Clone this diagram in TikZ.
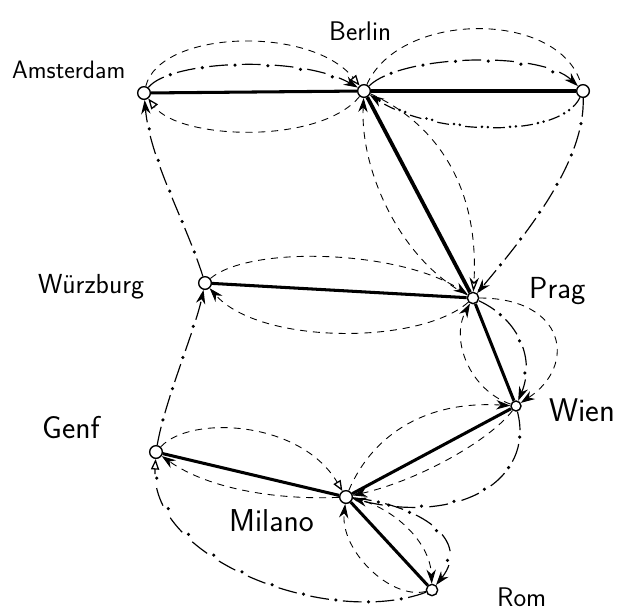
\documentclass[tikz,border=0pt]{standalone}
\usepackage{fontspec}
\usetikzlibrary{arrows.meta}
\begin{document}
\begin{tikzpicture}[x=0.03cm,y=-0.03cm,
  city/.style={circle,draw,line width=1.2pt,fill=white,inner sep=0pt,minimum size=3.8mm},
  lbl/.style={font=\sffamily,inner sep=0pt,anchor=base west},
  flow/.style={line width=2.6pt},
  dsh/.style={line width=0.75pt,dash pattern=on 6pt off 5pt},
  dd/.style={line width=1pt,dash pattern=on 16pt off 12pt,
    postaction={draw,-,line width=3pt,line cap=round,dash pattern=on 0pt off 28pt,dash phase=6pt}},
  ddd/.style={line width=1pt,dash pattern=on 10pt off 14pt,
    postaction={draw,-,line width=2.4pt,line cap=round,dash pattern=on 0pt off 5pt on 0pt off 19pt,dash phase=9.5pt}},
  tf/.style={-{Stealth[length=12pt,width=8pt]}},
  to/.style={-{Triangle[open,length=9pt,width=7pt,line width=1.1pt]}},
]
\useasboundingbox (0,0) rectangle (624,611);
\clip (0,0) rectangle (624,611);

% cities
\node[city] (A) at (144,93) {};
\node[city] (B) at (364,91) {};
\node[city] (X) at (583,91) {};
\node[city] (W) at (205,283) {};
\node[city,minimum size=3.4mm] (P) at (473,298) {};
\node[city,minimum size=3mm] (V) at (516,406) {};
\node[city] (G) at (156,452) {};
\node[city] (M) at (346,497) {};
\node[city,minimum size=3.4mm] (R) at (432,590) {};

% labels
\node[lbl,font=\sffamily\fontsize{21.5}{22}\selectfont] (lA) at (12,78) {Amsterdam};
\node[lbl,font=\sffamily\fontsize{23}{23}\selectfont] (lB) at (329,40) {Berlin};
\node[lbl,font=\sffamily\fontsize{23.5}{24}\selectfont] (lW) at (38,293) {Würzburg};
\node[lbl,font=\sffamily\fontsize{26}{26}\selectfont] (lP) at (529,298) {Prag};
\node[lbl,font=\sffamily\fontsize{28}{28}\selectfont] (lV) at (549,421) {Wien};
\node[lbl,font=\sffamily\fontsize{27}{27}\selectfont] (lG) at (42,438) {Genf};
\node[lbl,font=\sffamily\fontsize{27}{27}\selectfont] (lM) at (229,531) {Milano};
\node[lbl,font=\sffamily\fontsize{23}{23}\selectfont] (lR) at (497,606) {Rom};

% Amsterdam - Berlin
\draw[flow] (A) -- (B);
\draw[dd,tf] (A) .. controls (170,60) and (300,55) .. (B);
\draw[dsh,to] (A) .. controls (160,30) and (310,25) .. (B);
\draw[dsh,to] (B) .. controls (320,145) and (180,140) .. (A);

% Berlin - X
\draw[flow] (B) -- (X);
\draw[dd,tf] (B) .. controls (400,55) and (540,50) .. (X);
\draw[dsh] (B) .. controls (400,10) and (560,10) .. (X);
\draw[ddd,tf] (X) .. controls (560,140) and (430,135) .. (B);

% Berlin - Prag
\draw[line width=3.2pt] (B) -- (P);
\draw[dsh,tf] (P) .. controls (400,260) and (360,170) .. (B);
\draw[dsh,-{Stealth[open,length=12pt,width=8pt,line width=1.1pt]}] (B) .. controls (430,120) and (480,180) .. (P);
\draw[dd,tf] (X) .. controls (585,160) and (530,230) .. (P);

% Wuerzburg - Prag
\draw[flow] (W) -- (P);
\draw[dsh,tf] (W) .. controls (250,245) and (400,250) .. (P);
\draw[dsh,tf] (P) .. controls (420,345) and (260,345) .. (W);

% Amsterdam, Genf - Wuerzburg
\draw[dd,tf] (W) .. controls (185,220) and (150,160) .. (A);
\draw[dd,tf] (G) .. controls (165,400) and (195,330) .. (W);

% Prag - Wien
\draw[flow] (P) -- (V);
\draw[dsh,tf] (V) .. controls (470,390) and (450,340) .. (P);
\draw[dd,tf] (P) .. controls (520,320) and (535,360) .. (V);
\draw[dsh,tf] (P) .. controls (565,298) and (578,365) .. (V);

% Wien - Milano
\draw[flow] (V) -- (M);
\draw[dsh,tf] (M) .. controls (370,440) and (420,400) .. (V);
\draw[dsh,tf] (V) .. controls (490,440) and (420,480) .. (M);
\draw[dd,tf] (V) .. controls (535,480) and (460,525) .. (M);

% Genf - Milano
\draw[flow] (G) -- (M);
\draw[dsh,to] (G) .. controls (190,415) and (300,420) .. (M);
\draw[dsh,tf] (M) .. controls (280,500) and (210,490) .. (G);
\draw[dd,to] (R) .. controls (330,628) and (150,560) .. (G);

% Milano - Rom
\draw[flow] (M) -- (R);
\draw[dsh,tf] (R) .. controls (390,600) and (340,550) .. (M);
\draw[dsh,tf] (M) .. controls (390,505) and (430,540) .. (R);
\draw[dd,tf] (M) .. controls (420,505) and (472,540) .. (R);
\end{tikzpicture}
\end{document}
